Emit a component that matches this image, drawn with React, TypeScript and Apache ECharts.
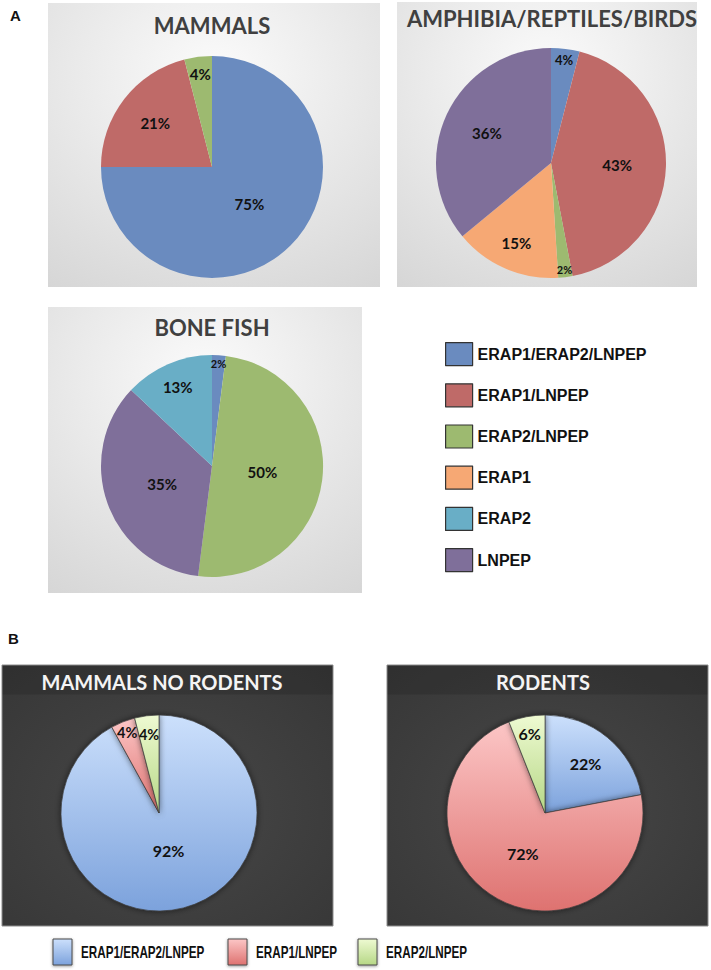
import React, { useEffect, useRef } from "react";
import * as echarts from "echarts";

// ---------- DATA ----------
const categories = ["ERAP1/ERAP2/LNPEP", "ERAP1/LNPEP", "ERAP2/LNPEP", "ERAP1", "ERAP2", "LNPEP"];

const mammalsNames = ["ERAP1/ERAP2/LNPEP", "ERAP1/LNPEP", "ERAP2/LNPEP"];
const mammalsValues = [75, 21, 4];

const amphibiaNames = ["ERAP1/ERAP2/LNPEP", "ERAP1/LNPEP", "ERAP2/LNPEP", "ERAP1", "LNPEP"];
const amphibiaValues = [4, 43, 2, 15, 36];

const boneFishNames = ["ERAP1/ERAP2/LNPEP", "ERAP2/LNPEP", "LNPEP", "ERAP2"];
const boneFishValues = [2, 50, 35, 13];

const noRodentsNames = ["ERAP1/ERAP2/LNPEP", "ERAP1/LNPEP", "ERAP2/LNPEP"];
const noRodentsValues = [92, 4, 4];

const rodentsNames = ["ERAP1/ERAP2/LNPEP", "ERAP1/LNPEP", "ERAP2/LNPEP"];
const rodentsValues = [22, 72, 6];

const legendBNames = ["ERAP1/ERAP2/LNPEP", "ERAP1/LNPEP", "ERAP2/LNPEP"];

// ---------- STYLE ----------
const colorsA: Record<string, string> = {
  "ERAP1/ERAP2/LNPEP": "#6A8BBF",
  "ERAP1/LNPEP": "#BF6A68",
  "ERAP2/LNPEP": "#9DBA70",
  ERAP1: "#F6A874",
  ERAP2: "#69AEC6",
  LNPEP: "#7F6F9A",
};
const gradB: Record<string, [string, string]> = {
  "ERAP1/ERAP2/LNPEP": ["#CCE0FC", "#7CA2DC"],
  "ERAP1/LNPEP": ["#FCC6C6", "#DE7270"],
  "ERAP2/LNPEP": ["#EEFAD2", "#B6D786"],
};

const TITLE_FONT = "Lato, 'Open Sans', sans-serif";
const LEGEND_FONT = "'Liberation Sans', Arial, sans-serif";

function linGrad(c: [string, string]) {
  return new echarts.graphic.LinearGradient(0, 0, 0, 1, [
    { offset: 0, color: c[0] },
    { offset: 1, color: c[1] },
  ]);
}

function labelOffsets(values: number[], r: number, fracs: number[]) {
  const total = values.reduce((a, b) => a + b, 0);
  let acc = 0;
  return values.map((v, i) => {
    const m = (acc + v / 2) / total;
    acc += v;
    const th = m * 2 * Math.PI;
    const k = (fracs[i] - 0.5) * r;
    return [k * Math.sin(th), -k * Math.cos(th)];
  });
}

type PieCfg = {
  names: string[];
  values: number[];
  center: [number, number];
  r: number;
  fracs: number[];
  sizes: number[];
  dark: boolean;
};

function pieSeries(c: PieCfg) {
  const offs = labelOffsets(c.values, c.r, c.fracs);
  return {
    type: "pie",
    center: c.center,
    radius: [0, c.r],
    startAngle: 90,
    clockwise: true,
    avoidLabelOverlap: false,
    silent: true,
    labelLine: { show: false },
    emphasis: { disabled: true },
    data: c.names.map((n, i) => ({
      name: n,
      value: c.values[i],
      itemStyle: c.dark
        ? {
            color: linGrad(gradB[n]),
            borderColor: "rgba(60,60,60,0.85)",
            borderWidth: 0.8,
            shadowBlur: 6,
            shadowColor: "rgba(0,0,0,0.55)",
          }
        : { color: colorsA[n], borderWidth: 0 },
      label: {
        show: true,
        position: "inside",
        formatter: "{c}%",
        offset: offs[i],
        fontFamily: TITLE_FONT,
        fontWeight: "bold",
        fontSize: c.sizes[i],
        color: "#111",
      },
    })),
  };
}

export default function App() {
  const ref = useRef<HTMLDivElement>(null);
  useEffect(() => {
    if (!ref.current) return;
    const chart = echarts.init(ref.current, undefined, { renderer: "svg" });

    const lightBg = new echarts.graphic.RadialGradient(0.5, 0.25, 0.95, [
      { offset: 0, color: "#fbfbfb" },
      { offset: 1, color: "#d4d4d4" },
    ]);
    const darkBg = () =>
      new echarts.graphic.RadialGradient(0.5, 0.55, 0.8, [
        { offset: 0, color: "#484848" },
        { offset: 1, color: "#353535" },
      ]);

    const titleA = (text: string, x: number, y: number) => ({
      type: "text",
      x,
      y,
      style: {
        text,
        align: "center",
        verticalAlign: "middle",
        fontFamily: TITLE_FONT,
        fontWeight: "bold",
        fontSize: 22,
        fill: "#404040",
      },
    });
    const titleB = (text: string, x: number, y: number) => ({
      type: "text",
      x,
      y,
      style: {
        text,
        align: "center",
        verticalAlign: "middle",
        fontFamily: TITLE_FONT,
        fontWeight: "bold",
        fontSize: 20,
        fill: "#f4f4f4",
      },
    });

    const legendBX = [53, 228, 358];
    const legendBItems = legendBNames.map((n, i) => ({
      type: "group",
      x: legendBX[i],
      y: 939,
      children: [
        {
          type: "rect",
          shape: { x: 0, y: 0, width: 19, height: 26 },
          style: {
            fill: linGrad(gradB[n]),
            stroke: "#4a4a4a",
            lineWidth: 1,
            shadowBlur: 3,
            shadowColor: "rgba(0,0,0,0.4)",
            shadowOffsetY: 1,
          },
        },
        {
          type: "text",
          x: 28,
          y: 13,
          scaleX: 0.73,
          style: {
            text: n,
            align: "left",
            verticalAlign: "middle",
            fontFamily: LEGEND_FONT,
            fontWeight: "bold",
            fontSize: 16,
            fill: "#111",
          },
        },
      ],
    }));

    const option: any = {
      animation: false,
      backgroundColor: "#ffffff",
      legend: {
        orient: "vertical",
        left: 440,
        top: 337,
        itemWidth: 27,
        itemHeight: 23,
        itemGap: 17,
        icon: "rect",
        selectedMode: false,
        data: categories.map((n) => ({
          name: n,
          itemStyle: { color: colorsA[n], borderColor: "#333", borderWidth: 1.2 },
        })),
        textStyle: { fontFamily: LEGEND_FONT, fontWeight: "bold", fontSize: 16, color: "#111" },
      },
      graphic: [
        { type: "rect", shape: { x: 48, y: 3, width: 332, height: 284 }, style: { fill: lightBg }, z: -1 },
        { type: "rect", shape: { x: 397, y: 2, width: 300, height: 285 }, style: { fill: lightBg }, z: -1 },
        { type: "rect", shape: { x: 48, y: 307, width: 314, height: 286 }, style: { fill: lightBg }, z: -1 },
        {
          type: "rect",
          shape: { x: 2, y: 665, width: 331, height: 261 },
          style: { fill: darkBg(), stroke: "#8c8c8c", lineWidth: 1 },
          z: -1,
        },
        { type: "rect", shape: { x: 2.5, y: 665.5, width: 330, height: 29 }, style: { fill: "rgba(0,0,0,0.12)" }, z: -1 },
        {
          type: "rect",
          shape: { x: 387, y: 665, width: 321, height: 261 },
          style: { fill: darkBg(), stroke: "#8c8c8c", lineWidth: 1 },
          z: -1,
        },
        { type: "rect", shape: { x: 387.5, y: 665.5, width: 320, height: 29 }, style: { fill: "rgba(0,0,0,0.12)" }, z: -1 },
        {
          type: "text",
          x: 10,
          y: 15,
          style: { text: "A", verticalAlign: "middle", fontFamily: LEGEND_FONT, fontWeight: "bold", fontSize: 15, fill: "#111" },
        },
        {
          type: "text",
          x: 8,
          y: 638,
          style: { text: "B", verticalAlign: "middle", fontFamily: LEGEND_FONT, fontWeight: "bold", fontSize: 15, fill: "#111" },
        },
        titleA("MAMMALS", 212, 25),
        titleA("AMPHIBIA/REPTILES/BIRDS", 552, 18),
        titleA("BONE FISH", 212, 327),
        titleB("MAMMALS NO RODENTS", 162, 682),
        titleB("RODENTS", 543, 682),
        ...legendBItems,
      ],
      series: [
        pieSeries({
          names: mammalsNames,
          values: mammalsValues,
          center: [212, 167],
          r: 111,
          fracs: [0.45, 0.62, 0.82],
          sizes: [15, 15, 15],
          dark: false,
        }),
        pieSeries({
          names: amphibiaNames,
          values: amphibiaValues,
          center: [551, 163],
          r: 115,
          fracs: [0.88, 0.55, 0.91, 0.73, 0.59],
          sizes: [13, 15, 11, 15, 15],
          dark: false,
        }),
        pieSeries({
          names: boneFishNames,
          values: boneFishValues,
          center: [212, 466],
          r: 111,
          fracs: [0.9, 0.43, 0.45, 0.75],
          sizes: [11, 15, 15, 15],
          dark: false,
        }),
        pieSeries({
          names: noRodentsNames,
          values: noRodentsValues,
          center: [159, 813],
          r: 98,
          fracs: [0.36, 0.85, 0.78],
          sizes: [16, 14.5, 14.5],
          dark: true,
        }),
        pieSeries({
          names: rodentsNames,
          values: rodentsValues,
          center: [545, 813],
          r: 98,
          fracs: [0.62, 0.44, 0.8],
          sizes: [16, 16, 16],
          dark: true,
        }),
      ],
    };
    chart.setOption(option);
    return () => chart.dispose();
  }, []);
  return (
    <div
      ref={ref}
      style={{ position: "absolute", left: 0, top: 0, width: 711, height: 970, background: "#fff" }}
    />
  );
}
